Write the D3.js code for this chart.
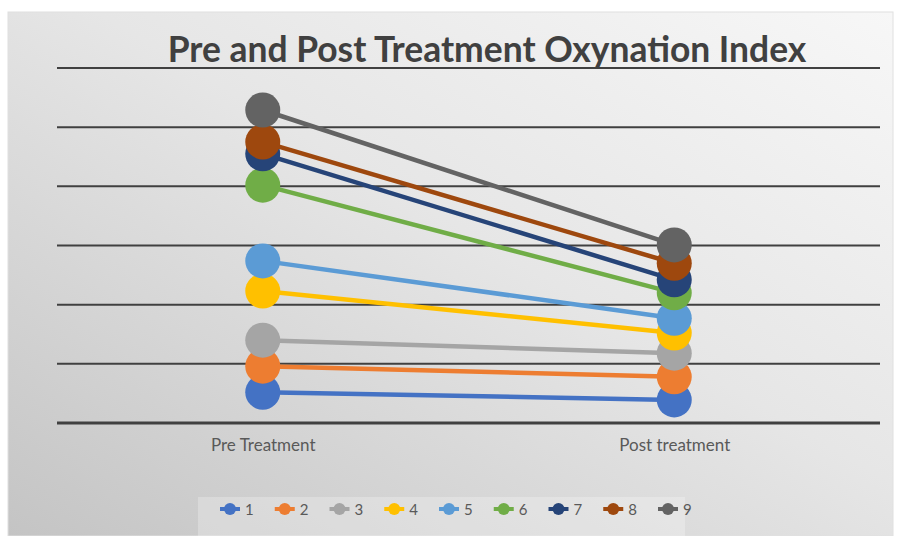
<!DOCTYPE html>
<html><head><meta charset="utf-8">
<script src="https://cdn.jsdelivr.net/npm/d3@7"></script>
<style>html,body{margin:0;padding:0;background:#fff;}svg{display:block;}</style>
</head><body>
<svg id="chart" width="899" height="536"></svg>
<script>
const categories = ["Pre Treatment", "Post treatment"];
const seriesNames = ["1","2","3","4","5","6","7","8","9"];
const preValues  = [52, 96, 140, 223, 274, 402, 455, 475, 529];
const postValues = [39, 78, 118, 152, 177, 220, 242, 270, 301];
const gridTicks = [0, 100, 200, 300, 400, 500, 600];
const colors = ["#4472C4","#ED7D31","#A5A5A5","#FFC000","#5B9BD5","#70AD47","#264478","#9E480E","#636363"];
const title = "Pre and Post Treatment Oxynation Index";

const svg = d3.select("#chart");
const defs = svg.append("defs");
const grad = defs.append("linearGradient").attr("id","bg")
  .attr("x1","100%").attr("y1","0%").attr("x2","0%").attr("y2","100%");
grad.append("stop").attr("offset","0%").attr("stop-color","#f7f7f7");
grad.append("stop").attr("offset","45%").attr("stop-color","#e6e6e6");
grad.append("stop").attr("offset","100%").attr("stop-color","#c4c4c4");

svg.append("rect").attr("x",8).attr("y",12).attr("width",885).attr("height",524)
  .attr("fill","url(#bg)").attr("stroke","#e0e0e0").attr("stroke-width",1);

const x = d3.scalePoint().domain(categories).range([57, 880]).padding(0.5);
const y = d3.scaleLinear().domain([0, 600]).range([423, 68]);

// gridlines
svg.append("g").selectAll("line").data(gridTicks).join("line")
  .attr("x1",57).attr("x2",880)
  .attr("y1",d=>y(d)).attr("y2",d=>y(d))
  .attr("stroke","#404040").attr("stroke-width",d=>d===0?3:2);

// category labels via axis
const xAxis = svg.append("g").attr("transform",`translate(0,${y(0)})`)
  .call(d3.axisBottom(x).tickSize(0).tickPadding(16));
xAxis.select(".domain").remove();
xAxis.selectAll("text").attr("font-family","Lato, 'Open Sans', sans-serif")
  .attr("font-size",17).attr("fill","#595959");

// series
const data = seriesNames.map((n,i)=>({name:n, color:colors[i], vals:[preValues[i], postValues[i]]}));
const line = d3.line().x((d,i)=>x(categories[i])).y(d=>y(d));
const sg = svg.append("g").selectAll("g").data(data).join("g");
sg.append("path").attr("d",d=>line(d.vals)).attr("fill","none")
  .attr("stroke",d=>d.color).attr("stroke-width",4.5);
sg.selectAll("circle").data(d=>d.vals.map((v,i)=>({v,i,c:d.color}))).join("circle")
  .attr("cx",d=>x(categories[d.i])).attr("cy",d=>y(d.v)).attr("r",17.5)
  .attr("fill",d=>d.c);

// title
const t = svg.append("text").attr("x",487).attr("y",62).attr("text-anchor","middle")
  .attr("font-family","Lato, 'Open Sans', sans-serif").attr("font-weight","bold")
  .attr("font-size",32).attr("fill","#404040").text(title);
const w = t.node().getComputedTextLength();
t.attr("font-size", 32*639/w);

// legend
svg.append("rect").attr("x",198).attr("y",497).attr("width",487).attr("height",39)
  .attr("fill","#ffffff").attr("fill-opacity",0.25);
const lg = svg.append("g").selectAll("g").data(data).join("g")
  .attr("transform",(d,i)=>`translate(${230+i*54.75},509)`);
lg.append("line").attr("x1",-10).attr("x2",10).attr("stroke",d=>d.color).attr("stroke-width",4);
lg.append("circle").attr("r",6).attr("fill",d=>d.color);
lg.append("text").attr("x",15).attr("y",6).attr("font-family","Lato, 'Open Sans', sans-serif")
  .attr("font-size",15).attr("fill","#595959").text(d=>d.name);
</script>
</body></html>
